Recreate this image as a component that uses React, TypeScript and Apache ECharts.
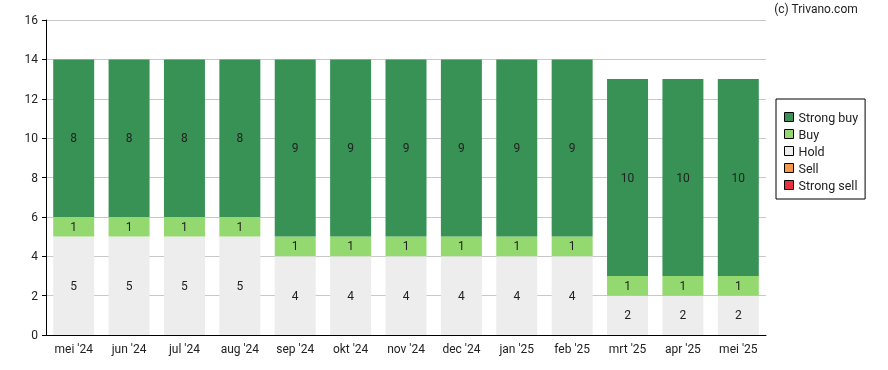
import React, { useEffect, useRef } from "react";
import * as echarts from "echarts";

const categories = ["mei '24", "jun '24", "jul '24", "aug '24", "sep '24", "okt '24", "nov '24", "dec '24", "jan '25", "feb '25", "mrt '25", "apr '25", "mei '25"];
const strongBuy = [8, 8, 8, 8, 9, 9, 9, 9, 9, 9, 10, 10, 10];
const buy = [1, 1, 1, 1, 1, 1, 1, 1, 1, 1, 1, 1, 1];
const hold = [5, 5, 5, 5, 4, 4, 4, 4, 4, 4, 2, 2, 2];
const sell = [0, 0, 0, 0, 0, 0, 0, 0, 0, 0, 0, 0, 0];
const strongSell = [0, 0, 0, 0, 0, 0, 0, 0, 0, 0, 0, 0, 0];
const legendNames = ["Strong buy", "Buy", "Hold", "Sell", "Strong sell"];

const FONT = "Roboto";

export default function App() {
  const ref = useRef<HTMLDivElement>(null);
  useEffect(() => {
    if (!ref.current) return;
    const chart = echarts.init(ref.current, undefined, { renderer: "svg" });
    const mk = (name: string, data: number[], color: string) => ({
      name,
      type: "bar",
      stack: "total",
      data,
      barCategoryGap: "26%",
      itemStyle: { color },
      label: {
        show: true,
        position: "inside",
        color: "#222",
        fontSize: 12,
        fontFamily: FONT,
        formatter: (p: any) => (p.value ? String(p.value) : ""),
      },
      emphasis: { disabled: true },
    });
    chart.setOption({
      animation: false,
      textStyle: { fontFamily: FONT },
      grid: { left: 46, right: 122, top: 20, bottom: 35 },
      graphic: [
        {
          type: "text",
          right: 30,
          top: 3,
          style: { text: "(c) Trivano.com", fontSize: 12, fontFamily: FONT, fill: "#222" },
        },
      ],
      legend: {
        data: legendNames,
        orient: "vertical",
        left: 776,
        top: 99,
        itemWidth: 9,
        itemHeight: 9,
        itemGap: 3,
        padding: [11, 7, 7, 8],
        borderColor: "#000",
        borderWidth: 1,
        borderRadius: 0,
        icon: "rect",
        textStyle: { fontSize: 12.5, lineHeight: 14, fontFamily: FONT, color: "#222" },
        selectedMode: false,
        itemStyle: { borderColor: "#000", borderWidth: 1 },
      },
      xAxis: {
        type: "category",
        data: categories,
        axisLine: { lineStyle: { color: "#000" } },
        axisTick: { alignWithLabel: true, length: 4, lineStyle: { color: "#000" } },
        axisLabel: { color: "#222", fontSize: 12, fontFamily: FONT, margin: 8 },
      },
      yAxis: {
        type: "value",
        min: 0,
        max: 16,
        interval: 2,
        axisLine: { show: true, lineStyle: { color: "#000" } },
        axisTick: { show: true, length: 4, lineStyle: { color: "#000" } },
        axisLabel: { color: "#222", fontSize: 12, fontFamily: FONT, margin: 8 },
        splitLine: { lineStyle: { color: "#c8c8c8" } },
      },
      series: [
        mk("Strong sell", strongSell, "#e8303f"),
        mk("Sell", sell, "#f79646"),
        mk("Hold", hold, "#ededed"),
        mk("Buy", buy, "#94d970"),
        mk("Strong buy", strongBuy, "#389255"),
      ],
    });
    return () => chart.dispose();
  }, []);
  return <div ref={ref} style={{ position: "fixed", left: 0, top: 0, width: 888, height: 370 }} />;
}
